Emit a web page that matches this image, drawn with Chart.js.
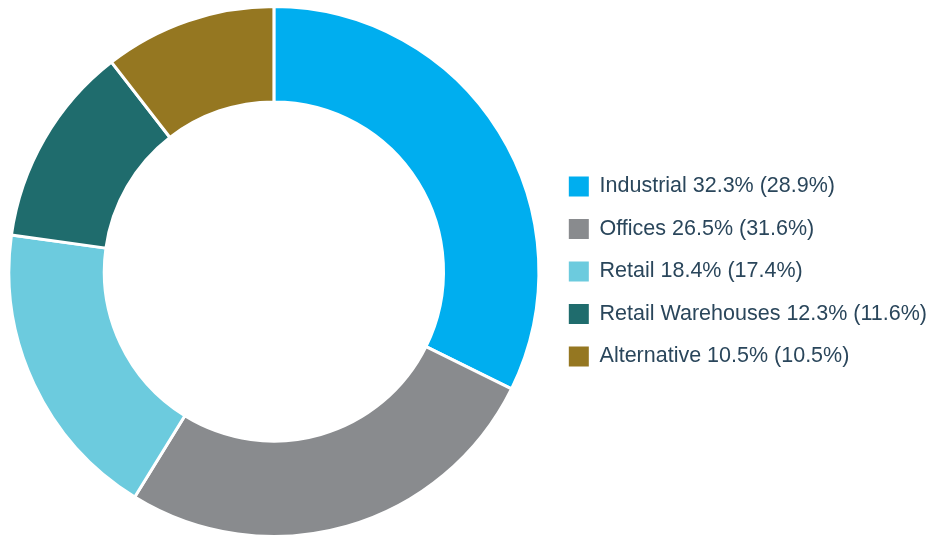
<!DOCTYPE html>
<html>
<head>
<meta charset="utf-8">
<script src="https://cdn.jsdelivr.net/npm/chart.js@4.4.1/dist/chart.umd.min.js"></script>
<style>
  html, body { margin: 0; padding: 0; background: #ffffff; }
  #wrap { width: 937px; height: 538px; position: relative; }
</style>
</head>
<body>
<div id="wrap"><canvas id="SectorChart"></canvas></div>
<script>
// sector split, current year value first, previous year in brackets
const sectors = ["Industrial", "Offices", "Retail", "Retail Warehouses", "Alternative"];
const shareNow = [32.3, 26.5, 18.4, 12.3, 10.5];
const sharePrev = [28.9, 31.6, 17.4, 11.6, 10.5];
const sectorColors = ["#00aeef", "#898b8e", "#6ccbde", "#1f6c6d", "#957721"];

const legendText = sectors.map((s, i) =>
    `${s} ${shareNow[i].toFixed(1)}% (${sharePrev[i].toFixed(1)}%)`);

const ctx = document.getElementById("SectorChart").getContext("2d");

new Chart(ctx, {
    type: "doughnut",
    data: {
        labels: legendText,
        datasets: [{
            data: shareNow,
            backgroundColor: sectorColors,
            borderColor: "#ffffff",
            borderWidth: 3
        }]
    },
    options: {
        responsive: true,
        maintainAspectRatio: false,
        animation: false,
        cutout: "64%",
        layout: { padding: { top: 5, bottom: 0, left: 0, right: 0 } },
        plugins: {
            tooltip: { enabled: false },
            legend: {
                position: "right",
                labels: {
                    boxWidth: 20,
                    boxHeight: 20,
                    padding: 21,
                    color: "#2a465b",
                    font: { family: "'Liberation Sans', Arial, sans-serif", size: 21.5 },
                    // no white outline round the legend squares
                    generateLabels: (chart) =>
                        Chart.overrides.doughnut.plugins.legend.labels.generateLabels(chart)
                            .map(item => ({ ...item, lineWidth: 0 }))
                }
            }
        }
    }
});
</script>
</body>
</html>
